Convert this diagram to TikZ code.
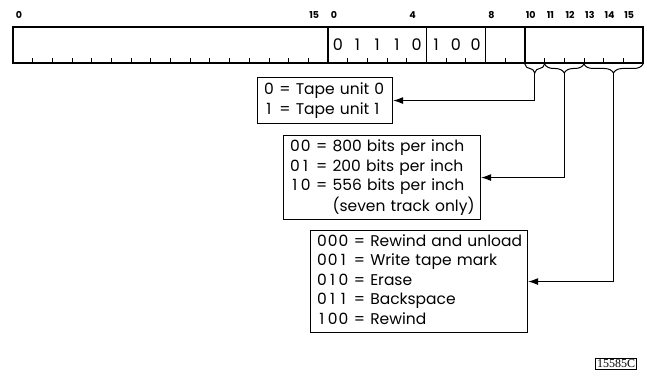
\documentclass[tikz,border=0pt]{standalone}
\usepackage{fontspec}
\setmainfont{Poppins}
\newfontfamily\serialfont{Liberation Serif}
\usetikzlibrary{positioning, arrows.meta, decorations.pathreplacing}
% digits of a bit code, each in a box of equal width
\def\bitcode#1{\bitcodestep#1\relax}
\def\bitcodestep#1{\ifx#1\relax\else
  \hbox to \dimexpr\fontcharwd\font`0+1pt\relax{\hss#1\hss}\expandafter\bitcodestep\fi}

\begin{document}
\begin{tikzpicture}[
  x=1pt, y=-1pt,
  >={Latex[length=10pt, width=7pt]},
  every node/.style={font=\fontsize{15.5}{19.5}\selectfont},
  bitnum/.style={font=\fontsize{9.5}{10}\selectfont\bfseries},
  bitval/.style={font=\fontsize{16}{18}\selectfont},
  codebox/.style={draw, line width=1.1pt, anchor=north west, align=left,
                  inner xsep=6pt, inner ysep=0pt, text width=#1},
  bittick/.style={line width=0.8pt},
  bracebelow/.style={decorate, decoration={brace, amplitude=9pt}, line width=1pt},
  link/.style={->, line width=1.1pt},
]
\useasboundingbox (0,0) rectangle (647,379);
\def\bw{19.6875}

% Register: two words of 16 bits
\draw[line width=1.3pt] (13,27) rectangle (643,63);
\foreach \x in {328,426.4375,485.5,524.875}
  \draw[line width=1.3pt] (\x,27) -- (\x,63);
\foreach \i in {1,...,15} {
  \draw[bittick] ({13+\i*\bw},63) -- ++(0,-5);
  \draw[bittick] ({328+\i*\bw},63) -- ++(0,-5);
}

% Bit numbers
\node[bitnum] (wa0) at ({13+0.3*\bw},15) {0};
\node[bitnum] (wa15) at ({13+15.3*\bw},15) {15};
\foreach \b in {0,4,8,10,11,12,13,14,15}
  \node[bitnum] (wb\b) at ({328+(\b+0.3)*\bw},15) {\b};

% Fixed bits of the second word
\foreach \v [count=\i from 0] in {0,1,1,1,0,1,0,0}
  \node[bitval] (val\i) at ({328+(\i+0.5)*\bw},45) {\v};

% Braces under bits 10, 11-12, 13-15
\draw[bracebelow] ({328+11*\bw},64) -- ({328+10*\bw},64);
\draw[bracebelow] ({328+13*\bw},64) -- ({328+11*\bw},64);
\draw[bracebelow] ({328+16*\bw},64) -- ({328+13*\bw},64);
\coordinate (unitsel) at ({328+10.5*\bw},73);
\coordinate (denssel) at ({328+12*\bw},73);
\coordinate (cmdsel) at ({328+14.5*\bw},73);

% Code boxes
\node[codebox=123pt, minimum height=46pt] (unitbox) at (257,77)
  {\begin{tabular}{@{}l@{\ =\ }l@{}}\bitcode{0} & Tape unit 0\\ \bitcode{1} & Tape unit 1\end{tabular}};
\node[codebox=185pt, minimum height=84pt] (densbox) at (283,135)
  {\begin{tabular}{@{}l@{\ }l@{\ }l@{}}
   \bitcode{00} & = & 800 bits per inch\\
   \bitcode{01} & = & 200 bits per inch\\
   \bitcode{10} & = & 556 bits per inch\\
      &   & (seven track only)\end{tabular}};
\node[codebox=205pt, minimum height=102pt] (cmdbox) at (310,230)
  {\begin{tabular}{@{}l@{\ =\ }l@{}}
   \bitcode{000} & Rewind and unload\\
   \bitcode{001} & Write tape mark\\
   \bitcode{010} & Erase\\
   \bitcode{011} & Backspace\\
   \bitcode{100} & Rewind\end{tabular}};

% Connectors
\draw[link] (unitsel) |- (unitbox);
\draw[link] (denssel) |- (densbox);
\draw[link] (cmdsel) |- (cmdbox);

\node[draw, line width=0.6pt, inner sep=1.5pt, font=\serialfont\fontsize{12}{13}\selectfont]
  (serial) at (616,363.5) {15585C};
\end{tikzpicture}
\end{document}
